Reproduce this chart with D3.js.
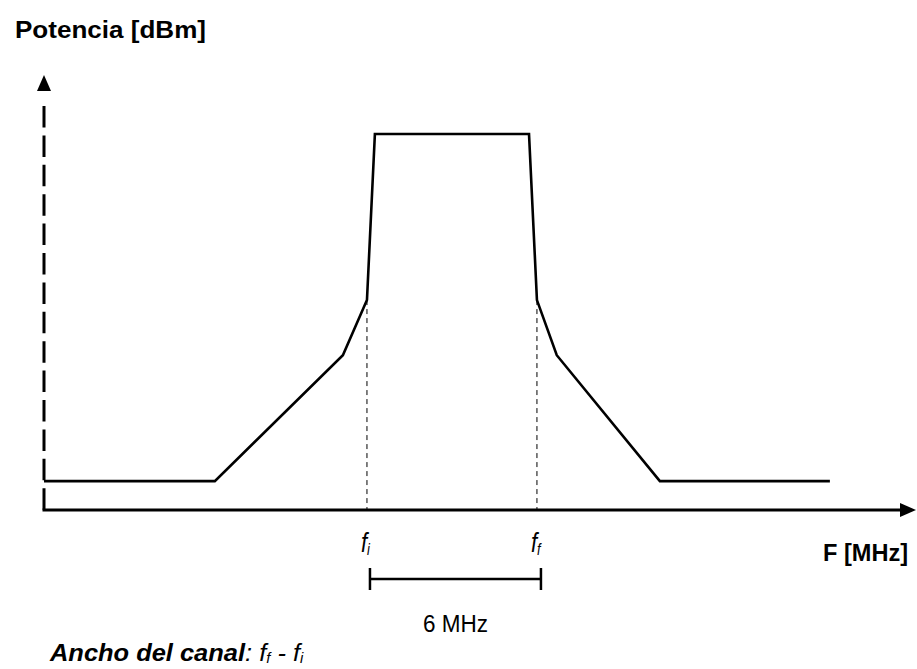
<!DOCTYPE html>
<html><head><meta charset="utf-8">
<script src="https://cdn.jsdelivr.net/npm/d3@7"></script>
<style>body{margin:0;background:#fff}svg{display:block}</style>
</head><body>
<script>
// Spectrum mask (frequency offset from channel centre in MHz, power in dBm) - schematic
const freqMHz  = [-14.4, -8.37, -3.85, -3.0, -2.72, 2.72, 3.0, 3.7, 7.34, 13.34];
const powerDbm = [-55.4, -55.4, -35.3, -26.5, 0, 0, -26.5, -35.3, -55.4, -55.4];
const channelEdges = [-3.0, 3.0];           // f_i, f_f
const channelLabels = ["i", "f"];
const bandwidthLabel = "6 MHz";
const xExtent = [-14.4, 16.38];
const yExtent = [-60, 9.4];
const yTitle = "Potencia [dBm]";
const xTitle = "F [MHz]";

const W = 917, H = 669;
const svg = d3.select("body").append("svg").attr("width", W).attr("height", H);

const x = d3.scaleLinear().domain(xExtent).range([44, 916]);
const y = d3.scaleLinear().domain([-60, 0]).range([510, 134]);

const font = "Liberation Sans, Arial, sans-serif";

// Y axis (dashed with arrow)
svg.append("line").attr("x1", x(xExtent[0])).attr("x2", x(xExtent[0]))
  .attr("y1", 106).attr("y2", y(yExtent[0]))
  .attr("stroke", "#000").attr("stroke-width", 3).attr("stroke-dasharray", "21.5,7.9");
svg.append("path")
  .attr("d", `M${x(xExtent[0])},${y(yExtent[1])} L${x(xExtent[0]) - 7},${y(yExtent[1]) + 16} L${x(xExtent[0]) + 7},${y(yExtent[1]) + 16} Z`)
  .attr("fill", "#000");

// X axis (solid with arrow)
svg.append("line").attr("x1", x(xExtent[0]) - 1.5).attr("x2", x(xExtent[1]) - 14)
  .attr("y1", y(yExtent[0])).attr("y2", y(yExtent[0]))
  .attr("stroke", "#000").attr("stroke-width", 3);
svg.append("path")
  .attr("d", `M${x(xExtent[1])},${y(yExtent[0])} L${x(xExtent[1]) - 16},${y(yExtent[0]) - 7} L${x(xExtent[1]) - 16},${y(yExtent[0]) + 7} Z`)
  .attr("fill", "#000");

// Dashed channel edge markers
channelEdges.forEach(f => {
  svg.append("line").attr("x1", x(f)).attr("x2", x(f))
    .attr("y1", y(-26.5)).attr("y2", y(yExtent[0]))
    .attr("stroke", "#000").attr("stroke-width", 1).attr("stroke-dasharray", "5,4");
});

// Spectrum line
const pts = freqMHz.map((f, i) => [f, powerDbm[i]]);
svg.append("path").datum(pts)
  .attr("d", d3.line().x(d => x(d[0])).y(d => y(d[1])))
  .attr("fill", "none").attr("stroke", "#000").attr("stroke-width", 2.6)
  .attr("stroke-linejoin", "miter");

// f_i / f_f labels
channelEdges.forEach((f, i) => {
  const g = svg.append("g").attr("transform", `translate(${x(f) - 6},552) scale(0.92,1.12)`);
  const t = g.append("text").attr("x", 0).attr("y", 0)
    .attr("font-family", font).attr("font-style", "italic")
    .attr("font-size", 24).attr("fill", "#000");
  t.append("tspan").text("f");
  t.append("tspan").attr("font-size", 14).attr("dy", 3).text(channelLabels[i]);
});

// Bandwidth bracket
const bx1 = x(channelEdges[0]) + 3, bx2 = x(channelEdges[1]) + 4, by = 579;
svg.append("line").attr("x1", bx1).attr("x2", bx2).attr("y1", by).attr("y2", by)
  .attr("stroke", "#000").attr("stroke-width", 2.5);
[bx1, bx2].forEach(bx => svg.append("line").attr("x1", bx).attr("x2", bx)
  .attr("y1", by - 11).attr("y2", by + 11).attr("stroke", "#000").attr("stroke-width", 2.5));
svg.append("text").attr("x", (bx1 + bx2) / 2).attr("y", 632).attr("text-anchor", "middle")
  .attr("font-family", font).attr("font-size", 23).attr("fill", "#000")
  .attr("textLength", 65).attr("lengthAdjust", "spacingAndGlyphs").text(bandwidthLabel);

// Titles
svg.append("text").attr("x", 15).attr("y", 38).attr("font-family", font)
  .attr("font-weight", "bold").attr("font-size", 23).attr("fill", "#000")
  .attr("textLength", 191).attr("lengthAdjust", "spacingAndGlyphs").text(yTitle);
svg.append("text").attr("x", 823).attr("y", 561).attr("font-family", font)
  .attr("font-weight", "bold").attr("font-size", 24).attr("fill", "#000")
  .attr("textLength", 85).attr("lengthAdjust", "spacingAndGlyphs").text(xTitle);

// Bottom caption
const capG = svg.append("g").attr("transform", "translate(50,661) scale(1.06,1)");
const cap = capG.append("text").attr("x", 0).attr("y", 0).attr("font-family", font)
  .attr("font-size", 24).attr("font-style", "italic").attr("fill", "#000");
cap.append("tspan").attr("font-weight", "bold").text("Ancho del canal");
cap.append("tspan").text(": f");
cap.append("tspan").attr("font-size", 14).attr("dy", 2).text("f");
cap.append("tspan").attr("dy", -2).text(" - f");
cap.append("tspan").attr("font-size", 14).attr("dy", 2).text("i");
</script>
</body></html>
